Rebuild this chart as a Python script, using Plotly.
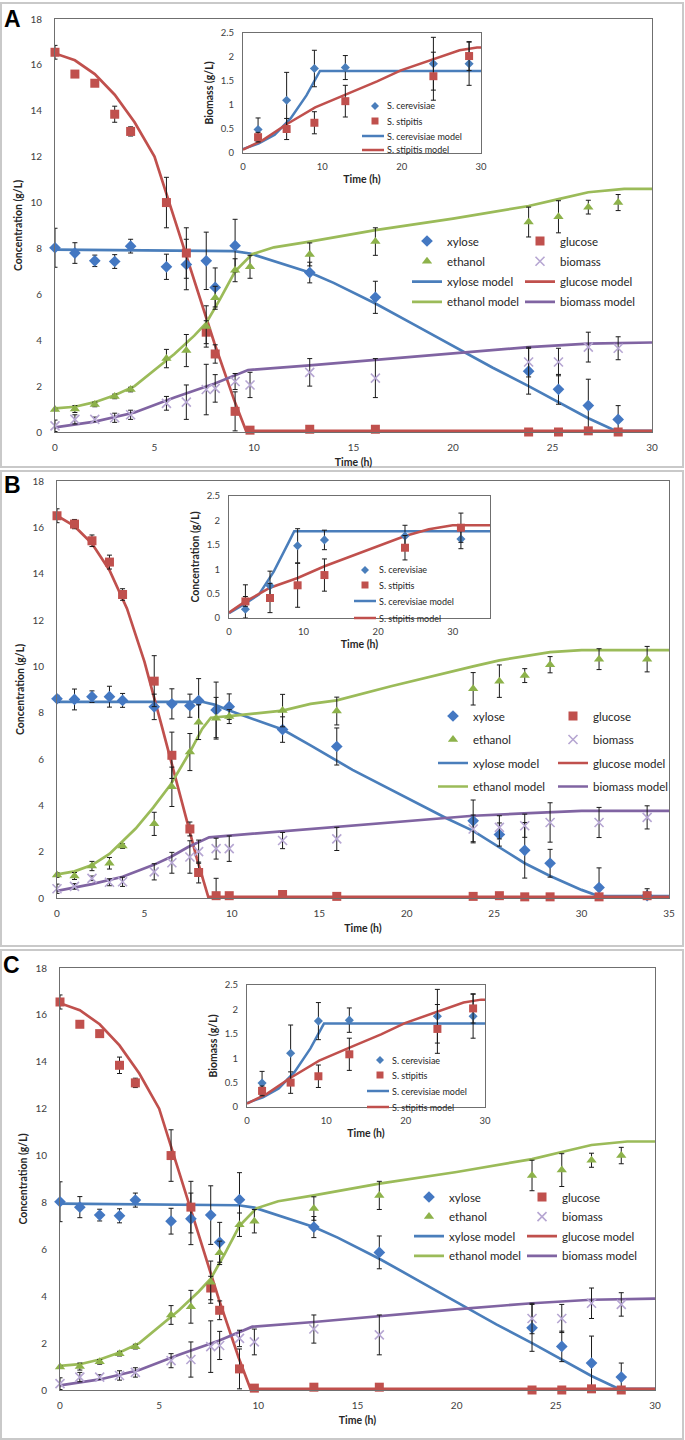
import plotly.graph_objects as go

W, H = 685, 1440
FONT = "Lato"

# ---------------- Panel A (panel C shows the same experiment) ----------------
A_time = [0, 1, 2, 3, 3.8, 5.6, 6.6, 7.6, 8.05, 9.05, 9.8, 12.8, 16.1, 23.8, 25.3, 26.8, 28.3]
A_xylose = [8.03, 7.8, 7.46, 7.43, 8.1, 7.2, 7.3, 7.46, 6.3, 8.12, None, 6.95, 5.87, 2.65, 1.86, 1.15, 0.55]
A_xylose_err = [0.85, 0.45, 0.25, 0.3, 0.3, 0.55, 1.1, 1.25, 0.85, 1.15, 0, 0.45, 0.7, 1.0, 0.65, 1.15, 0.6]
A_glucose = [16.55, 15.6, 15.2, 13.85, 13.1, 10.0, 7.8, 4.35, 3.4, 0.9, 0.08, 0.12, 0.12, 0.0, 0.0, 0.05, 0.0]
A_glucose_err = [0.3, 0.1, 0.1, 0.35, 0.2, 1.1, 1.1, 0.5, 0.4, 0.85, 0.05, 0.05, 0.05, 0, 0, 0, 0]
A_ethanol = [0.98, 1.0, 1.2, 1.55, 1.85, 3.2, 3.55, 4.6, 5.85, 7.05, 7.2, 7.74, 8.3, 9.15, 9.38, 9.8, 10.0]
A_ethanol_err = [0.05, 0.15, 0.1, 0.1, 0.1, 0.4, 0.7, 0.9, 0.5, 0.5, 0.5, 0.5, 0.6, 0.65, 0.7, 0.3, 0.35]
A_biomass = [0.27, 0.55, 0.55, 0.62, 0.75, 1.25, 1.3, 1.85, 1.9, 2.2, 2.05, 2.6, 2.35, 3.05, 3.05, 3.7, 3.65]
A_biomass_err = [0.25, 0.2, 0.1, 0.2, 0.2, 0.3, 0.75, 1.1, 0.6, 0.35, 0.55, 0.6, 0.85, 0.65, 0.6, 0.65, 0.5]

A_glucose_model_t = [0, 1, 2, 3, 4, 5, 6, 7, 8, 9, 9.6, 30]
A_glucose_model = [16.5, 16.2, 15.6, 14.7, 13.5, 12.0, 9.3, 6.6, 3.9, 1.4, 0.05, 0.05]
A_xylose_model_t = [0, 9, 9.8, 11, 12.8, 14, 16.1, 18, 20, 22, 23.8, 25.3, 26.8, 28, 28.3, 30]
A_xylose_model = [7.95, 7.88, 7.78, 7.45, 6.95, 6.5, 5.6, 4.7, 3.75, 2.8, 2.0, 1.3, 0.6, 0.12, 0.05, 0.05]
A_ethanol_model_t = [0, 1, 2, 3, 4, 5, 6, 7, 7.6, 8.3, 9.05, 9.9, 11, 12.8, 16.1, 20, 23.8, 25.3, 26.8, 28.6, 30]
A_ethanol_model = [1.03, 1.1, 1.3, 1.6, 2.0, 2.7, 3.4, 4.2, 4.75, 5.8, 7.0, 7.75, 8.05, 8.3, 8.8, 9.3, 9.85, 10.15, 10.45, 10.6, 10.6]
A_biomass_model_t = [0, 2, 4, 6, 8, 9.7, 12.8, 16.1, 20.1, 23.8, 26.8, 30]
A_biomass_model = [0.2, 0.45, 0.85, 1.5, 2.1, 2.7, 2.9, 3.15, 3.45, 3.7, 3.85, 3.9]

A_inset_time = [1.9, 5.5, 9.0, 12.9, 24.0, 28.5]
A_cerevisiae = [0.49, 1.1, 1.76, 1.78, 1.86, 1.86]
A_cerevisiae_err = [0.24, 0.58, 0.38, 0.25, 0.55, 0.45]
A_stipitis = [0.33, 0.5, 0.63, 1.08, 1.6, 2.02]
A_stipitis_err = [0.1, 0.22, 0.23, 0.33, 0.5, 0.3]
A_cerevisiae_model_t = [0, 2, 4, 6, 8, 9.7, 30]
A_cerevisiae_model = [0.08, 0.2, 0.38, 0.72, 1.2, 1.71, 1.71]
A_stipitis_model_t = [0, 2.5, 5.5, 9.1, 13, 16.9, 19.9, 24, 27.3, 29.5, 30]
A_stipitis_model = [0.07, 0.27, 0.6, 0.95, 1.22, 1.49, 1.72, 1.96, 2.14, 2.2, 2.2]

# ---------------- Panel B ----------------
B_time = [0, 1, 2, 3, 3.75, 5.56, 6.57, 7.6, 8.1, 9.1, 9.85, 12.9, 16, 23.8, 25.3, 26.75, 28.2, 31, 33.75]
B_xylose = [8.6, 8.57, 8.69, 8.69, 8.53, 8.25, 8.38, 8.3, 8.52, 8.12, 8.26, 7.27, 6.54, 3.33, 2.74, 2.06, 1.5, 0.45, 0.1]
B_xylose_err = [0.15, 0.45, 0.25, 0.45, 0.3, 0.55, 0.65, 0.5, 0.95, 1.2, 0.55, 0.55, 0.8, 0.9, 0.5, 1.2, 0.6, 0.85, 0]
B_glucose = [16.5, 16.14, 15.42, 14.5, 13.1, 9.36, 6.16, 2.98, 1.1, 0.1, 0.1, 0.15, 0.07, 0.07, 0.1, 0.05, 0.05, 0.05, 0.1]
B_glucose_err = [0.3, 0.2, 0.25, 0.3, 0.25, 1.1, 1.0, 0.3, 0.45, 0.75, 0.05, 0.05, 0.05, 0.05, 0.05, 0.05, 0.05, 0.05, 0.3]
B_ethanol = [0.99, 0.95, 1.38, 1.5, 2.24, 3.2, 4.8, 6.3, 7.59, 7.76, 7.83, 8.09, 8.07, 9.03, 9.36, 9.6, 10.07, 10.31, 10.31]
B_ethanol_err = [0.1, 0.15, 0.2, 0.25, 0.1, 0.5, 0.85, 0.8, 0.75, 0.9, 0.3, 0.7, 0.6, 0.7, 0.7, 0.3, 0.35, 0.45, 0.55]
B_biomass = [0.4, 0.5, 0.85, 0.68, 0.7, 1.13, 1.52, 1.77, 2.0, 2.13, 2.13, 2.48, 2.55, 2.98, 3.05, 3.12, 3.26, 3.26, 3.48]
B_biomass_err = [0.2, 0.12, 0.1, 0.15, 0.2, 0.35, 0.45, 0.7, 0.5, 0.45, 0.55, 0.35, 0.5, 0.6, 0.5, 0.5, 0.85, 0.65, 0.5]

B_glucose_model_t = [0, 1, 2, 3, 4, 5, 6, 7, 8, 8.65, 35]
B_glucose_model = [16.5, 16.05, 15.3, 14.15, 12.5, 10.2, 7.4, 4.55, 1.7, 0.05, 0.05]
B_xylose_model_t = [0, 8.3, 9, 9.85, 12.9, 14.5, 16.9, 22.3, 23.8, 25.25, 26.75, 28.2, 30, 31, 35]
B_xylose_model = [8.47, 8.47, 8.35, 8.09, 7.27, 6.59, 5.53, 3.43, 2.9, 2.2, 1.5, 0.95, 0.35, 0.08, 0.08]
B_ethanol_model_t = [0, 1, 2, 3, 3.75, 4.5, 5.5, 6.5, 7.6, 8.3, 8.8, 10, 12.9, 14.5, 16, 19.1, 23.8, 25.3, 28.2, 30, 35]
B_ethanol_model = [1.02, 1.15, 1.42, 1.9, 2.45, 3.0, 3.9, 4.9, 6.3, 7.3, 7.78, 7.86, 8.09, 8.38, 8.53, 9.14, 10.0, 10.26, 10.61, 10.7, 10.7]
B_biomass_model_t = [0, 2, 3.75, 5.5, 6.5, 7.5, 8.7, 10, 12.8, 16, 20, 23.8, 26.7, 30, 35]
B_biomass_model = [0.31, 0.6, 0.92, 1.42, 1.77, 2.2, 2.62, 2.7, 2.87, 3.05, 3.29, 3.55, 3.65, 3.76, 3.76]

B_inset_time = [2.2, 5.5, 9.2, 12.8, 23.6, 31.1]
B_cerevisiae = [0.18, 0.66, 1.48, 1.6, 1.68, 1.62]
B_cerevisiae_err = [0.5, 0.3, 0.35, 0.2, 0.22, 0.2]
B_stipitis = [0.34, 0.41, 0.67, 0.88, 1.44, 1.85]
B_stipitis_err = [0.1, 0.3, 0.45, 0.33, 0.25, 0.3]
B_cerevisiae_model_t = [0, 2, 4, 6, 8, 8.75, 35]
B_cerevisiae_model = [0.1, 0.28, 0.48, 0.95, 1.55, 1.78, 1.78]
B_stipitis_model_t = [0, 2, 5.5, 9.2, 12.8, 19.8, 23.6, 26.8, 30, 35]
B_stipitis_model = [0.11, 0.32, 0.62, 0.82, 1.06, 1.47, 1.68, 1.82, 1.9, 1.9]

# ---------------- Panel C (same values as panel A) ----------------
C_time = A_time
C_xylose, C_xylose_err = A_xylose, A_xylose_err
C_glucose, C_glucose_err = A_glucose, A_glucose_err
C_ethanol, C_ethanol_err = A_ethanol, A_ethanol_err
C_biomass, C_biomass_err = A_biomass, A_biomass_err
C_inset_time = A_inset_time
C_cerevisiae, C_cerevisiae_err = A_cerevisiae, A_cerevisiae_err
C_stipitis, C_stipitis_err = A_stipitis, A_stipitis_err

MAIN_TICKS_30 = [0, 5, 10, 15, 20, 25, 30]
MAIN_TICKS_35 = [0, 5, 10, 15, 20, 25, 30, 35]
INSET_TICKS = [0, 10, 20, 30]

# ---------------- styling ----------------
MARK = {
    "xylose": dict(symbol="diamond", size=9, color="#4478c2"),
    "glucose": dict(symbol="square", size=9, color="#c0504d"),
    "ethanol": dict(symbol="triangle-up", size=9, color="#8db24a"),
    "biomass": dict(symbol="x-thin-open", size=9, color="#b6a6d2", line=dict(color="#b6a6d2", width=1.6)),
}
LINE = {"xylose": "#4a7ebb", "glucose": "#c0504d", "ethanol": "#9bbb59", "biomass": "#8064a2"}
INSET_COL = {"cer": "#4a7ebb", "stip": "#c0504d"}


def px(x):
    return x / W


def py(y):
    return 1 - y / H


fig = go.Figure()


def errminus(vals, errs):
    return [0 if v is None else min(e, v) for v, e in zip(vals, errs)]


def add_main(ax, t, series, models, legends):
    xa = "x" if ax == 1 else f"x{ax}"
    ya = "y" if ax == 1 else f"y{ax}"
    ranks = {"xylose": (legends[0], 1), "ethanol": (legends[0], 2),
             "glucose": (legends[1], 1), "biomass": (legends[1], 2)}
    for name, (mt, mv) in models.items():
        leg, r = ranks[name]
        fig.add_trace(go.Scatter(x=mt, y=mv, mode="lines", name=f"{name} model",
                                 line=dict(color=LINE[name], width=2.7),
                                 xaxis=xa, yaxis=ya, legend=leg, legendrank=r + 2,
                                 legendgroup=f"{leg}{name}m", hoverinfo="skip"))
    for name, (v, e) in series.items():
        leg, r = ranks[name]
        fig.add_trace(go.Scatter(x=t, y=v, mode="markers", name=name, marker=MARK[name],
                                 error_y=dict(type="data", array=e, arrayminus=errminus(v, e),
                                              color="#1a1a1a", thickness=1, width=2.5),
                                 xaxis=xa, yaxis=ya, legend=leg, legendrank=r,
                                 legendgroup=f"{leg}{name}", cliponaxis=False))


def add_inset(ax, t, cer, cer_e, stip, stip_e, cer_m, stip_m):
    xa, ya = f"x{ax}", f"y{ax}"
    fig.add_trace(go.Scatter(x=cer_m[0], y=cer_m[1], mode="lines", name="S. cerevisiae model",
                             line=dict(color=INSET_COL["cer"], width=2.5), xaxis=xa, yaxis=ya,
                             showlegend=False))
    fig.add_trace(go.Scatter(x=stip_m[0], y=stip_m[1], mode="lines", name="S. stipitis model",
                             line=dict(color=INSET_COL["stip"], width=2.5), xaxis=xa, yaxis=ya,
                             showlegend=False))
    fig.add_trace(go.Scatter(x=t, y=cer, mode="markers", name="S. cerevisiae",
                             marker=dict(symbol="diamond", size=7, color="#4a7ebb"),
                             error_y=dict(type="data", array=cer_e, arrayminus=errminus(cer, cer_e),
                                          color="#1a1a1a", thickness=1, width=2.5),
                             xaxis=xa, yaxis=ya, showlegend=False, cliponaxis=False))
    fig.add_trace(go.Scatter(x=t, y=stip, mode="markers", name="S. stipitis",
                             marker=dict(symbol="square", size=8, color="#c0504d"),
                             error_y=dict(type="data", array=stip_e, arrayminus=errminus(stip, stip_e),
                                          color="#1a1a1a", thickness=1, width=2.5),
                             xaxis=xa, yaxis=ya, showlegend=False, cliponaxis=False))


# Panel A
add_main(1, A_time,
         {"xylose": (A_xylose, A_xylose_err), "glucose": (A_glucose, A_glucose_err),
          "ethanol": (A_ethanol, A_ethanol_err), "biomass": (A_biomass, A_biomass_err)},
         {"xylose": (A_xylose_model_t, A_xylose_model), "glucose": (A_glucose_model_t, A_glucose_model),
          "ethanol": (A_ethanol_model_t, A_ethanol_model), "biomass": (A_biomass_model_t, A_biomass_model)},
         ("legend", "legend2"))
add_inset(2, A_inset_time, A_cerevisiae, A_cerevisiae_err, A_stipitis, A_stipitis_err,
          (A_cerevisiae_model_t, A_cerevisiae_model), (A_stipitis_model_t, A_stipitis_model))
# Panel B
add_main(3, B_time,
         {"xylose": (B_xylose, B_xylose_err), "glucose": (B_glucose, B_glucose_err),
          "ethanol": (B_ethanol, B_ethanol_err), "biomass": (B_biomass, B_biomass_err)},
         {"xylose": (B_xylose_model_t, B_xylose_model), "glucose": (B_glucose_model_t, B_glucose_model),
          "ethanol": (B_ethanol_model_t, B_ethanol_model), "biomass": (B_biomass_model_t, B_biomass_model)},
         ("legend3", "legend4"))
add_inset(4, B_inset_time, B_cerevisiae, B_cerevisiae_err, B_stipitis, B_stipitis_err,
          (B_cerevisiae_model_t, B_cerevisiae_model), (B_stipitis_model_t, B_stipitis_model))
# Panel C
add_main(5, C_time,
         {"xylose": (C_xylose, C_xylose_err), "glucose": (C_glucose, C_glucose_err),
          "ethanol": (C_ethanol, C_ethanol_err), "biomass": (C_biomass, C_biomass_err)},
         {"xylose": (A_xylose_model_t, A_xylose_model), "glucose": (A_glucose_model_t, A_glucose_model),
          "ethanol": (A_ethanol_model_t, A_ethanol_model), "biomass": (A_biomass_model_t, A_biomass_model)},
         ("legend5", "legend6"))
add_inset(6, C_inset_time, C_cerevisiae, C_cerevisiae_err, C_stipitis, C_stipitis_err,
          (A_cerevisiae_model_t, A_cerevisiae_model), (A_stipitis_model_t, A_stipitis_model))

# ---------------- axes ----------------
TICKFONT = dict(family=FONT, size=10, color="#404040")
INSET_TICKFONT = dict(family=FONT, size=9.5, color="#404040")
TITLEFONT = dict(family=FONT, size=10.5, color="#262626")


def axis(domain, rng, tickvals, title, tickfont, standoff, lso):
    return dict(domain=domain, range=rng, tickvals=tickvals, showgrid=False, zeroline=False,
                showline=True, linecolor="#6f6f6f", linewidth=1, mirror=True, ticks="",
                tickfont=tickfont, ticklabelstandoff=lso, automargin=False, fixedrange=True,
                title=dict(text=f"<b>{title}</b>", font=TITLEFONT, standoff=standoff))


panels = {
    # axis index: (x px left, x px right, y px top, y px bottom, xrange, xticks, ytop, ytick, title, kind)
    1: (55, 652, 19, 432, [0, 30], MAIN_TICKS_30, 18, 2, "Concentration (g/L)", "main"),
    2: (243, 481, 33, 153, [0, 30], INSET_TICKS, 2.5, 0.5, "Biomass (g/L)", "inset"),
    3: (57, 669, 481, 898, [0, 35], MAIN_TICKS_35, 18, 2, "Concentration (g/L)", "main"),
    4: (229, 490, 496, 618, [0, 35], INSET_TICKS, 2.5, 0.5, "Concentration (g/L)", "inset"),
    5: (60, 655, 968, 1390, [0, 30], MAIN_TICKS_30, 18, 2, "Concentration (g/L)", "main"),
    6: (247, 485, 985, 1107, [0, 30], INSET_TICKS, 2.5, 0.5, "Biomass (g/L)", "inset"),
}
layout_axes = {}
for i, (xl, xr, yt, yb, xr_, xt, ytop, ystep, ytitle, kind) in panels.items():
    tf = TICKFONT if kind == "main" else INSET_TICKFONT
    yticks = [round(k * ystep, 2) for k in range(int(round(ytop / ystep)) + 1)]
    xname = "xaxis" if i == 1 else f"xaxis{i}"
    yname = "yaxis" if i == 1 else f"yaxis{i}"
    xa = axis([px(xl), px(xr)], xr_, xt, "Time (h)", tf, 6 if kind == "main" else 4, 6 if kind == "main" else 5)
    ya = axis([py(yb), py(yt)], [0, ytop], yticks, ytitle, tf, 5 if kind == "main" else 5, 10 if kind == "main" else 6)
    xa["anchor"] = "y" if i == 1 else f"y{i}"
    ya["anchor"] = "x" if i == 1 else f"x{i}"
    layout_axes[xname] = xa
    layout_axes[yname] = ya

# ---------------- legends (main charts) ----------------
LEGFONT = dict(family=FONT, size=11.5, color="#262626")


def legend(xtext, first_row, gap):
    return dict(x=px(xtext - 40), y=py(first_row - 14.5), xanchor="left", yanchor="top",
                bgcolor="rgba(0,0,0,0)", font=LEGFONT, itemwidth=30, traceorder="grouped",
                tracegroupgap=gap, borderwidth=0)


legends = {
    "legend": legend(447, 241, 1.3), "legend2": legend(560, 241, 1.3),
    "legend3": legend(473, 716, 4.5), "legend4": legend(593, 716, 4.5),
    "legend5": legend(449, 1197, 0.6), "legend6": legend(562, 1197, 0.6),
}

# ---------------- inset legends, panel frames and labels ----------------
shapes, annotations = [], []
for (mx, tx, lx0, rows) in [(375, 384, 362, [106, 121, 136, 150]),
                            (365, 376, 354, [570, 585, 601, 618]),
                            (380, 389, 367, [1060, 1075, 1091, 1107])]:
    r0 = rows[0]
    shapes.append(dict(type="path", xref="paper", yref="paper",
                       path=f"M {px(mx)},{py(r0 - 4)} L {px(mx + 4)},{py(r0)} L {px(mx)},{py(r0 + 4)} L {px(mx - 4)},{py(r0)} Z",
                       fillcolor="#4a7ebb", line=dict(width=0)))
    r1 = rows[1]
    shapes.append(dict(type="rect", xref="paper", yref="paper", x0=px(mx - 3.5), x1=px(mx + 3.5),
                       y0=py(r1 + 3.5), y1=py(r1 - 3.5), fillcolor="#c0504d", line=dict(width=0)))
    shapes.append(dict(type="line", xref="paper", yref="paper", x0=px(lx0), x1=px(tx), y0=py(rows[2]), y1=py(rows[2]),
                       line=dict(color="#4a7ebb", width=2.5)))
    shapes.append(dict(type="line", xref="paper", yref="paper", x0=px(lx0), x1=px(tx), y0=py(rows[3]), y1=py(rows[3]),
                       line=dict(color="#c0504d", width=2.5)))
    for txt, r in zip(["S. cerevisiae", "S. stipitis", "S. cerevisiae model", "S. stipitis model"], rows):
        annotations.append(dict(text=txt, x=px(tx + 1), y=py(r), xref="paper", yref="paper", xanchor="left",
                                yanchor="middle", showarrow=False,
                                font=dict(family=FONT, size=9, color="#262626")))

for (y0, y1) in [(3, 467), (471, 946), (950, 1439)]:
    shapes.append(dict(type="rect", xref="paper", yref="paper", x0=px(1), x1=px(683), y0=py(y1), y1=py(y0),
                       line=dict(color="#c9c9c9", width=2), fillcolor="rgba(0,0,0,0)", layer="below"))

for lab, (lx, ly) in {"A": (12, 19), "B": (12, 485), "C": (11, 965)}.items():
    annotations.append(dict(text=f"<b>{lab}</b>", x=px(lx), y=py(ly), xref="paper", yref="paper",
                            xanchor="center", yanchor="middle", showarrow=False,
                            font=dict(family="Liberation Sans", size=23, color="#000000")))

fig.update_layout(
    width=W, height=H, margin=dict(l=0, r=0, t=0, b=0),
    paper_bgcolor="white", plot_bgcolor="white",
    font=dict(family=FONT, color="#262626"),
    shapes=shapes, annotations=annotations,
    **layout_axes, **legends,
)

# the page body gets no default 8px margin, so the 685x1440 figure fills the window exactly
fig.write_html("out.html", config={"displayModeBar": False},
               post_script="document.body.style.margin='0px';")
